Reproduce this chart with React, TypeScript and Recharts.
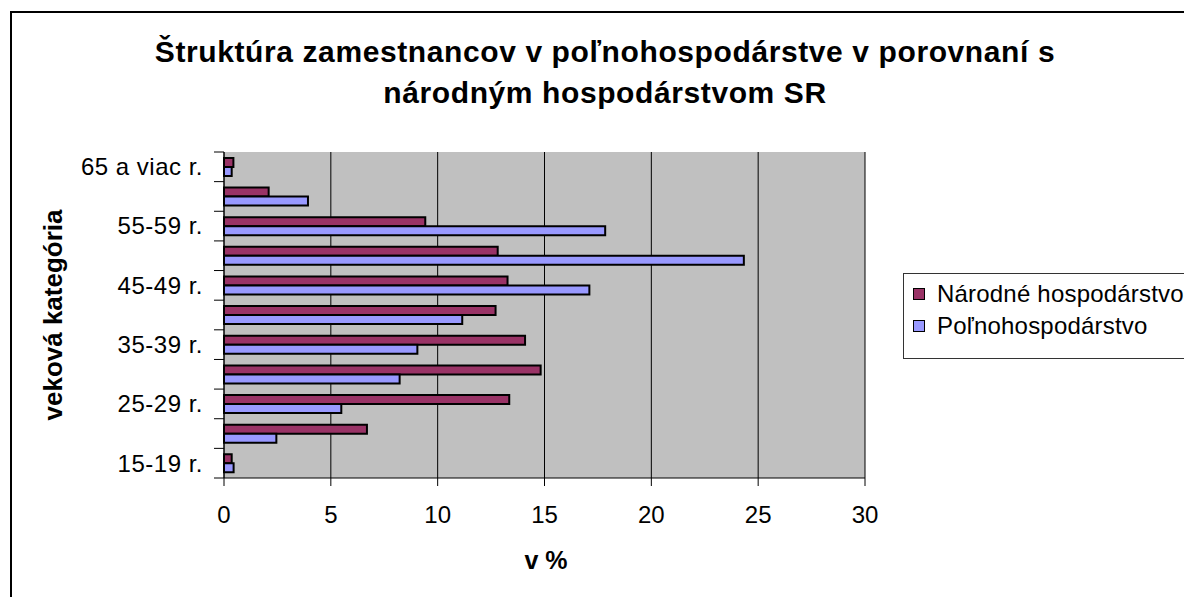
import React from "react";
import { BarChart, Bar, XAxis, YAxis, CartesianGrid } from "recharts";

const CATEGORIES = [
  "15-19 r.",
  "20-24 r.",
  "25-29 r.",
  "30-34 r.",
  "35-39 r.",
  "40-44 r.",
  "45-49 r.",
  "50-54 r.",
  "55-59 r.",
  "60-64 r.",
  "65 a viac r.",
];
const NARODNE = [0.36, 6.69, 13.35, 14.82, 14.09, 12.71, 13.27, 12.81, 9.42, 2.09, 0.44];
const POLNO = [0.45, 2.45, 5.49, 8.22, 9.05, 11.15, 17.1, 24.33, 17.84, 3.93, 0.36];
const X_TICKS = [0, 5, 10, 15, 20, 25, 30];

const SERIES = [
  { key: "narodne", label: "Národné hospodárstvo", fill: "#993366" },
  { key: "polno", label: "Poľnohospodárstvo", fill: "#9999FF" },
];

const data = CATEGORIES.map((c, i) => ({ cat: c, narodne: NARODNE[i], polno: POLNO[i] }));

const FONT = "Arial, 'Liberation Sans', sans-serif";
const W = 1184;
const H = 597;
// plot area
const PLOT_L = 224;
const PLOT_R = 865;
const PLOT_T = 152;
const PLOT_B = 478;
const Y_AXIS_W = 200;
const X_AXIS_H = 60;
const TICK_SIZE = 10;
const TICK_MARGIN = 11;
const BAND = (PLOT_B - PLOT_T) / CATEGORIES.length;

// excel style: label every other category, tick marks on band edges
const CategoryTick = (props: any) => {
  const { x, y, payload, index } = props;
  const axisX = x + TICK_SIZE + TICK_MARGIN;
  return (
    <g>
      <line x1={axisX - TICK_SIZE} x2={axisX} y1={y - BAND / 2} y2={y - BAND / 2} stroke="#000" />
      {index === 0 && (
        <line x1={axisX - TICK_SIZE} x2={axisX} y1={y + BAND / 2} y2={y + BAND / 2} stroke="#000" />
      )}
      {index % 2 === 0 && (
        <text
          x={x}
          y={y}
          dy="0.35em"
          textAnchor="end"
          fontSize={24}
          letterSpacing={0.5}
          fill="#000"
          fontFamily={FONT}
        >
          {payload.value}
        </text>
      )}
    </g>
  );
};

export default function App() {
  return (
    <div style={{ position: "relative", width: W, height: H, overflow: "hidden", background: "#fff", fontFamily: FONT }}>
      <style>{"body{margin:0;overflow:hidden}"}</style>
      <div
        style={{
          position: "absolute",
          left: 10,
          top: 11,
          width: 1300,
          height: 700,
          border: "2px solid #000",
        }}
      />
      <div style={{ position: "absolute", left: 0, top: 0 }}>
        <BarChart
          width={W}
          height={H}
          data={data}
          layout="vertical"
          barCategoryGap="20%"
          barGap={0}
          margin={{
            top: PLOT_T,
            right: W - PLOT_R,
            bottom: H - PLOT_B - X_AXIS_H,
            left: PLOT_L - Y_AXIS_W,
          }}
        >
          <CartesianGrid horizontal={false} stroke="#000" fill="#C0C0C0" fillOpacity={1} />
          <XAxis
            type="number"
            domain={[0, 30]}
            ticks={X_TICKS}
            interval={0}
            height={X_AXIS_H}
            tickSize={8}
            tickMargin={20}
            axisLine={{ stroke: "#000" }}
            tickLine={{ stroke: "#000" }}
            tick={{ fontSize: 24, fill: "#000", fontFamily: FONT }}
          />
          <XAxis
            xAxisId="top"
            orientation="top"
            type="number"
            domain={[0, 30]}
            height={0}
            tick={false}
            tickLine={false}
            axisLine={{ stroke: "#808080" }}
          />
          <YAxis
            type="category"
            dataKey="cat"
            reversed
            interval={0}
            width={Y_AXIS_W}
            tickSize={TICK_SIZE}
            tickMargin={TICK_MARGIN}
            tickLine={false}
            axisLine={{ stroke: "#000" }}
            tick={<CategoryTick />}
          />
          <YAxis
            yAxisId="right"
            orientation="right"
            type="number"
            domain={[0, 1]}
            width={0}
            tick={false}
            tickLine={false}
            axisLine={{ stroke: "#808080" }}
          />
          {SERIES.map((s) => (
            <Bar
              key={s.key}
              dataKey={s.key}
              name={s.label}
              fill={s.fill}
              stroke="#000"
              strokeWidth={2}
              isAnimationActive={false}
            />
          ))}
        </BarChart>
      </div>
      <svg
        width={W}
        height={H}
        style={{ position: "absolute", left: 0, top: 0, pointerEvents: "none" }}
        fontFamily={FONT}
      >
        <text x={605} y={62} textAnchor="middle" fontSize={30} fontWeight="bold" letterSpacing={0.6}>
          Štruktúra zamestnancov v poľnohospodárstve v porovnaní s
        </text>
        <text x={605} y={103} textAnchor="middle" fontSize={30} fontWeight="bold" letterSpacing={0.6}>
          národným hospodárstvom SR
        </text>
        <text x={546} y={569} textAnchor="middle" fontSize={25} fontWeight="bold">
          v %
        </text>
        <text
          x={0}
          y={0}
          transform={`translate(62,${(PLOT_T + PLOT_B) / 2}) rotate(-90)`}
          textAnchor="middle"
          fontSize={26}
          fontWeight="bold"
        >
          veková kategória
        </text>
      </svg>
      <div
        style={{
          position: "absolute",
          left: 903,
          top: 273,
          width: 320,
          height: 80,
          border: "1px solid #333",
          background: "#fff",
          paddingTop: 4,
          boxSizing: "content-box",
        }}
      >
        {SERIES.map((s) => (
          <div
            key={s.key}
            style={{
              display: "flex",
              alignItems: "center",
              height: 32,
              fontSize: 24,
              letterSpacing: 0.2,
              color: "#000",
              whiteSpace: "nowrap",
            }}
          >
            <span
              style={{
                display: "inline-block",
                width: 10,
                height: 10,
                marginLeft: 9,
                marginRight: 12,
                background: s.fill,
                border: "1px solid #000",
              }}
            />
            {s.label}
          </div>
        ))}
      </div>
    </div>
  );
}
